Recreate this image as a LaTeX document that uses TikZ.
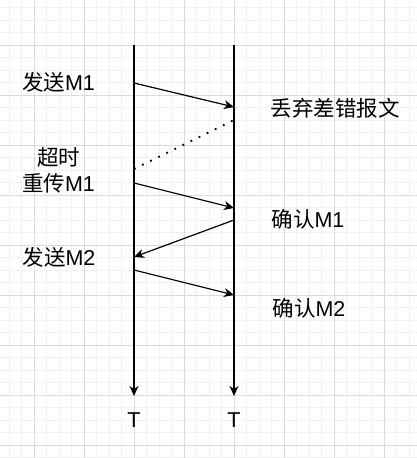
\documentclass[tikz,border=0pt]{standalone}
\usepackage{fontspec}
\setmainfont{Liberation Sans}
\newfontfamily\cjk{Noto Sans CJK SC}
\usetikzlibrary{arrows.meta}
\definecolor{gridminor}{RGB}{240,240,240}
\definecolor{gridmajor}{RGB}{218,218,218}
\tikzset{
  lbl/.style={font=\fontsize{21.5}{26}\selectfont, inner sep=0pt, align=center},
  msg/.style={line width=1.2pt, -{Stealth[length=10pt,width=9pt,inset=3pt]}},
  life/.style={line width=1.3pt, -{Stealth[length=10pt,width=9pt,inset=3pt]}},
  lost/.style={line width=1.8pt, dash pattern=on 1.8pt off 7.2pt},
}
\begin{document}
\begin{tikzpicture}[x=1pt,y=-1pt]
\useasboundingbox (0,0) rectangle (417,458);
\fill[white] (0,0) rectangle (417,458);
% grid
\foreach \i in {0,...,33} {
  \draw[gridminor, line width=0.8pt] ({9.3+12.5*\i},0) -- ({9.3+12.5*\i},458);
}
\foreach \i in {0,...,36} {
  \draw[gridminor, line width=0.8pt] (0,{7.8+12.5*\i}) -- (417,{7.8+12.5*\i});
}
\foreach \i in {0,...,7} {
  \draw[gridmajor, line width=0.8pt] ({34.3+50*\i},0) -- ({34.3+50*\i},458);
}
\foreach \i in {0,...,8} {
  \draw[gridmajor, line width=0.8pt] (0,{45.3+50*\i}) -- (417,{45.3+50*\i});
}
% lifelines
\coordinate (Atop) at (134,45);
\coordinate (Abot) at (134,396);
\coordinate (Btop) at (234,45);
\coordinate (Bbot) at (234,396);
\draw[life] (Atop) -- (Abot);
\draw[life] (Btop) -- (Bbot);
\node[lbl] (TA) at (134,420) {T};
\node[lbl] (TB) at (234,420) {T};
% message end points
\coordinate (a1) at (134,83);
\coordinate (b1) at (234,107);
\coordinate (a2) at (134,169);
\coordinate (b2) at (234,120);
\coordinate (a3) at (134,183);
\coordinate (b3) at (234,208);
\coordinate (b4) at (234,220);
\coordinate (a4) at (134,257);
\coordinate (a5) at (134,270);
\coordinate (b5) at (234,295);
\draw[msg] (a1) -- (b1);
\draw[lost] (a2) -- (b2);
\draw[msg] (a3) -- (b3);
\draw[msg] (b4) -- (a4);
\draw[msg] (a5) -- (b5);
% labels
\node[lbl] (s1) at (58.5,82) {{\cjk 发送}M1};
\node[lbl] (rt) at (58.5,170) {{\cjk 超时}\\{\cjk 重传}M1};
\node[lbl] (dr) at (335,108) {\cjk 丢弃差错报文};
\node[lbl] (c1) at (308,219) {{\cjk 确认}M1};
\node[lbl] (s2) at (59,257) {{\cjk 发送}M2};
\node[lbl] (c2) at (309,308) {{\cjk 确认}M2};
\end{tikzpicture}
\end{document}
